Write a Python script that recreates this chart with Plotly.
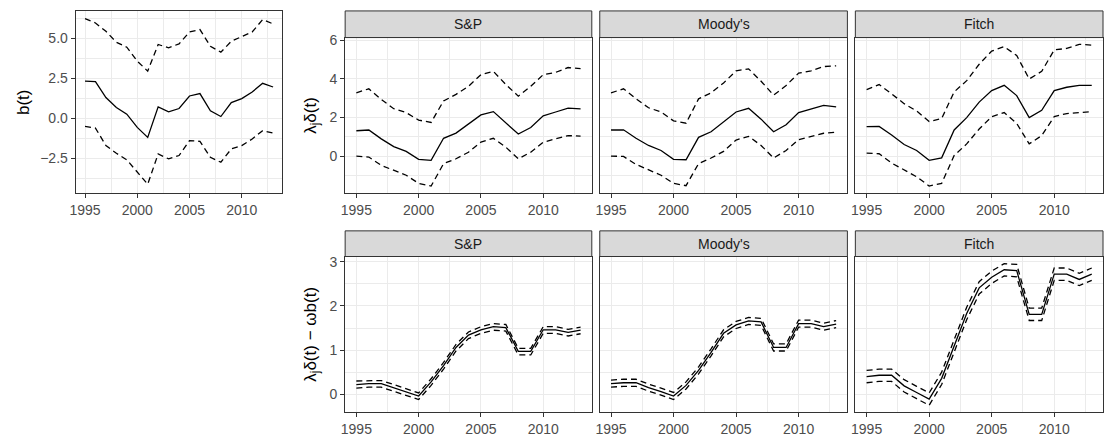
import plotly.graph_objects as go

years = list(range(1995, 2014))

# b(t)
b_mid = [2.33, 2.29, 1.30, 0.68, 0.27, -0.56, -1.18, 0.72, 0.41, 0.62, 1.40, 1.55, 0.48, 0.12, 0.99, 1.24, 1.65, 2.19, 1.96]
b_upper = [6.22, 5.95, 5.43, 4.75, 4.44, 3.57, 2.95, 4.61, 4.40, 4.65, 5.39, 5.54, 4.50, 4.13, 4.81, 5.12, 5.39, 6.16, 5.89]
b_lower = [-0.50, -0.60, -1.69, -2.17, -2.58, -3.35, -4.10, -2.21, -2.52, -2.31, -1.38, -1.43, -2.42, -2.73, -1.90, -1.69, -1.28, -0.76, -0.91]

# lambda_j delta(t)
sp_mid = [1.31, 1.35, 0.89, 0.49, 0.24, -0.17, -0.22, 0.92, 1.19, 1.65, 2.13, 2.30, 1.74, 1.14, 1.48, 2.08, 2.28, 2.48, 2.44]
sp_upper = [3.27, 3.48, 2.93, 2.45, 2.25, 1.86, 1.74, 2.85, 3.19, 3.61, 4.21, 4.38, 3.70, 3.10, 3.61, 4.21, 4.33, 4.58, 4.52]
sp_lower = [0.00, -0.05, -0.48, -0.73, -0.99, -1.41, -1.55, -0.39, -0.14, 0.20, 0.72, 0.92, 0.46, -0.14, 0.20, 0.72, 0.89, 1.06, 1.03]

moodys_mid = [1.35, 1.36, 0.92, 0.55, 0.29, -0.17, -0.19, 0.97, 1.26, 1.79, 2.28, 2.47, 1.91, 1.26, 1.62, 2.25, 2.45, 2.62, 2.54]
moodys_upper = [3.27, 3.48, 2.96, 2.50, 2.28, 1.82, 1.70, 2.96, 3.27, 3.78, 4.41, 4.51, 3.87, 3.15, 3.65, 4.29, 4.41, 4.63, 4.67]
moodys_lower = [0.00, -0.02, -0.43, -0.73, -0.99, -1.41, -1.53, -0.39, -0.10, 0.24, 0.83, 1.02, 0.55, -0.10, 0.29, 0.85, 1.02, 1.18, 1.23]

fitch_mid = [1.52, 1.53, 1.09, 0.60, 0.29, -0.22, -0.09, 1.35, 1.99, 2.79, 3.39, 3.66, 3.13, 1.99, 2.37, 3.39, 3.56, 3.66, 3.66]
fitch_upper = [3.44, 3.70, 3.22, 2.71, 2.33, 1.79, 1.94, 3.32, 3.90, 4.75, 5.43, 5.66, 5.20, 3.99, 4.38, 5.49, 5.57, 5.78, 5.74]
fitch_lower = [0.15, 0.12, -0.36, -0.73, -1.07, -1.55, -1.41, 0.03, 0.63, 1.40, 2.04, 2.25, 1.69, 0.63, 1.06, 2.04, 2.20, 2.25, 2.30]

# lambda_j delta(t) - omega b(t)
sp_diff_mid = [0.22, 0.24, 0.24, 0.15, 0.06, -0.04, 0.28, 0.65, 1.06, 1.34, 1.46, 1.53, 1.51, 0.97, 0.97, 1.46, 1.46, 1.40, 1.45]
sp_diff_upper = [0.30, 0.31, 0.31, 0.22, 0.13, 0.03, 0.35, 0.72, 1.13, 1.41, 1.53, 1.60, 1.58, 1.04, 1.04, 1.53, 1.53, 1.47, 1.52]
sp_diff_lower = [0.14, 0.16, 0.16, 0.07, -0.02, -0.12, 0.20, 0.57, 0.98, 1.26, 1.38, 1.45, 1.43, 0.89, 0.89, 1.38, 1.38, 1.32, 1.37]

moodys_diff_mid = [0.24, 0.26, 0.26, 0.15, 0.06, -0.04, 0.20, 0.54, 0.95, 1.38, 1.57, 1.66, 1.64, 1.06, 1.06, 1.60, 1.60, 1.53, 1.59]
moodys_diff_upper = [0.32, 0.34, 0.34, 0.23, 0.14, 0.04, 0.28, 0.62, 1.03, 1.46, 1.65, 1.74, 1.72, 1.14, 1.14, 1.68, 1.68, 1.61, 1.67]
moodys_diff_lower = [0.16, 0.18, 0.18, 0.07, -0.02, -0.12, 0.12, 0.46, 0.87, 1.30, 1.49, 1.58, 1.56, 0.98, 0.98, 1.52, 1.52, 1.45, 1.51]

fitch_diff_mid = [0.40, 0.43, 0.43, 0.19, 0.04, -0.11, 0.36, 1.10, 1.83, 2.41, 2.65, 2.82, 2.80, 1.81, 1.81, 2.72, 2.72, 2.60, 2.72]
fitch_diff_upper = [0.54, 0.57, 0.57, 0.33, 0.18, 0.03, 0.50, 1.24, 1.97, 2.55, 2.79, 2.96, 2.94, 1.95, 1.95, 2.86, 2.86, 2.74, 2.86]
fitch_diff_lower = [0.26, 0.29, 0.29, 0.05, -0.10, -0.25, 0.22, 0.96, 1.69, 2.27, 2.51, 2.68, 2.66, 1.67, 1.67, 2.58, 2.58, 2.46, 2.58]

agencies = ["S&P", "Moody's", "Fitch"]
x_ticks = [1995, 2000, 2005, 2010]

W, H = 1104, 437
FONT = "Liberation Sans, Arial, sans-serif"
GRID = "#EBEBEB"
BORDER = "#333333"
TICKFONT = dict(family=FONT, size=14, color="#4D4D4D")


def fx(p):
    return p / W


def fy(p):
    return 1 - p / H


# panel pixel boxes: (x0, x1, ytop, ybottom)
top_cols = [(341, 589), (597, 846), (854, 1103)]
top_y = (32, 190)
strip_top = (5, 32)
bot_y = (254, 412)
strip_bot = (228, 254)

panels = []
panels.append(dict(box=(70, 278, 5, 190), yr=[-4.67, 6.70], dt=2.5, mt=-3.75,
                   ylab=True, tickformat=".1f",
                   series=(b_upper, b_mid, b_lower), strip=None))
top_series = [(sp_upper, sp_mid, sp_lower), (moodys_upper, moodys_mid, moodys_lower),
              (fitch_upper, fitch_mid, fitch_lower)]
bot_series = [(sp_diff_upper, sp_diff_mid, sp_diff_lower),
              (moodys_diff_upper, moodys_diff_mid, moodys_diff_lower),
              (fitch_diff_upper, fitch_diff_mid, fitch_diff_lower)]
for i, (x0, x1) in enumerate(top_cols):
    panels.append(dict(box=(x0, x1, top_y[0], top_y[1]), yr=[-1.93, 6.13], dt=2, mt=-1,
                       ylab=(i == 0), tickformat="d", series=top_series[i],
                       strip=(agencies[i], strip_top)))
for i, (x0, x1) in enumerate(top_cols):
    panels.append(dict(box=(x0, x1, bot_y[0], bot_y[1]), yr=[-0.41, 3.12], dt=1, mt=0.5,
                       ylab=(i == 0), tickformat="d", series=bot_series[i],
                       strip=(agencies[i], strip_bot)))

fig = go.Figure()
shapes = []
annotations = []
layout = {}

for k, p in enumerate(panels, start=1):
    sfx = "" if k == 1 else str(k)
    x0, x1, yt, yb = p["box"]
    layout["xaxis" + sfx] = dict(
        domain=[fx(x0), fx(x1)], anchor="y" + sfx, range=[1994.1, 2013.9],
        tickmode="array", tickvals=x_ticks, ticktext=[str(v) for v in x_ticks],
        showgrid=True, gridcolor=GRID, gridwidth=1,
        minor=dict(tick0=1997.5, dtick=5, showgrid=True, gridcolor=GRID, gridwidth=0.6),
        showline=True, mirror=True, linecolor=BORDER, linewidth=1,
        ticks="outside", ticklen=4, tickcolor=BORDER, tickwidth=1,
        tickfont=TICKFONT, zeroline=False, fixedrange=True,
    )
    yax = dict(
        domain=[fy(yb), fy(yt)], anchor="x" + sfx, range=p["yr"],
        tick0=0, dtick=p["dt"], tickformat=p["tickformat"],
        showgrid=True, gridcolor=GRID, gridwidth=1,
        minor=dict(tick0=p["mt"], dtick=p["dt"], showgrid=True, gridcolor=GRID, gridwidth=0.6),
        showline=True, mirror=True, linecolor=BORDER, linewidth=1,
        ticks="outside" if p["ylab"] else "", ticklen=4, tickcolor=BORDER, tickwidth=1,
        showticklabels=p["ylab"], zeroline=False, fixedrange=True,
    )
    if p["ylab"]:
        yax["tickfont"] = TICKFONT
    layout["yaxis" + sfx] = yax
    up, mid, lo = p["series"]
    xa, ya = "x" + sfx, "y" + sfx
    for vals, dash in ((up, "6px,4px"), (mid, "solid"), (lo, "6px,4px")):
        fig.add_trace(go.Scatter(x=years, y=vals, mode="lines", xaxis=xa, yaxis=ya,
                                 line=dict(color="black", width=1.3, dash=dash),
                                 showlegend=False, hoverinfo="skip"))
    if p["strip"]:
        label, (st, sb) = p["strip"]
        shapes.append(dict(type="rect", xref="paper", yref="paper",
                           x0=fx(x0), x1=fx(x1), y0=fy(sb), y1=fy(st),
                           fillcolor="#D9D9D9", line=dict(color=BORDER, width=1), layer="above"))
        annotations.append(dict(xref="paper", yref="paper", x=fx((x0 + x1) / 2), y=fy((st + sb) / 2),
                                text=label, showarrow=False, xanchor="center", yanchor="middle",
                                font=dict(family=FONT, size=14, color="#1A1A1A")))

# y-axis titles
TITLEFONT = dict(family=FONT, size=17, color="black")
annotations.append(dict(xref="paper", yref="paper", x=fx(17), y=fy(97.5), text="b(t)",
                        textangle=-90, showarrow=False, xanchor="center", yanchor="middle", font=TITLEFONT))
annotations.append(dict(xref="paper", yref="paper", x=fx(308), y=fy(111), text="λ<sub>j</sub>δ(t)",
                        textangle=-90, showarrow=False, xanchor="center", yanchor="middle", font=TITLEFONT))
annotations.append(dict(xref="paper", yref="paper", x=fx(308), y=fy(333), text="λ<sub>j</sub>δ(t) − ωb(t)",
                        textangle=-90, showarrow=False, xanchor="center", yanchor="middle", font=TITLEFONT))

fig.update_layout(
    width=W, height=H, margin=dict(l=0, r=0, t=0, b=0),
    paper_bgcolor="white", plot_bgcolor="white",
    font=dict(family=FONT), showlegend=False,
    shapes=shapes, annotations=annotations, **layout,
)

fig.write_html(
    "out.html",
    config={"displayModeBar": False},
    post_script="document.body.style.margin='0px';document.body.style.padding='0px';document.body.style.overflow='hidden';",
)
